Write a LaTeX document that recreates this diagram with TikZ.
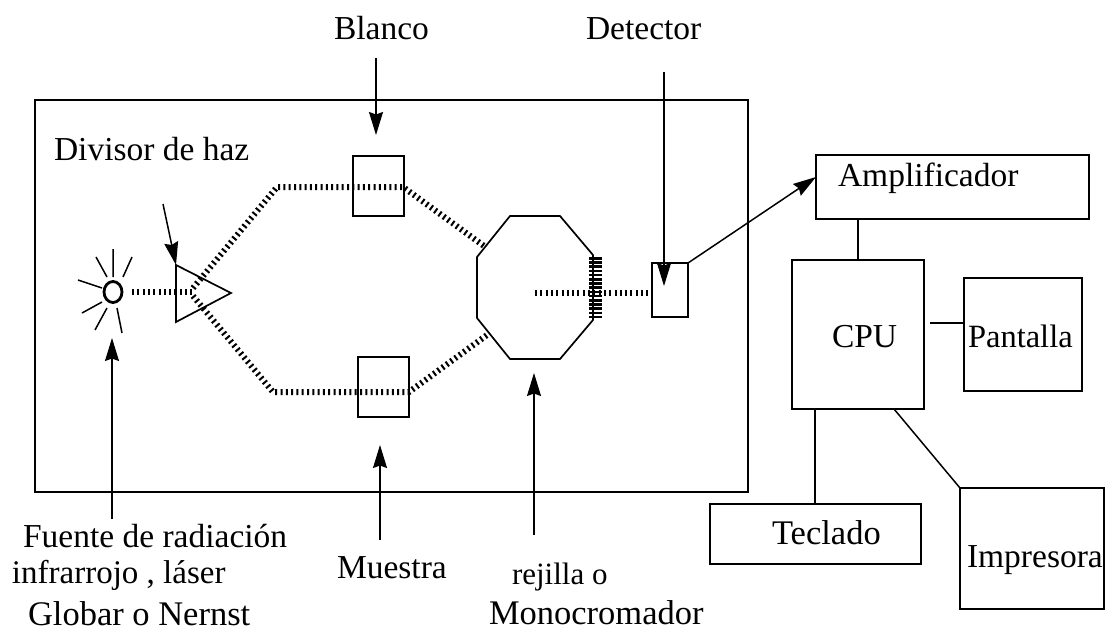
\documentclass[tikz,border=0pt]{standalone}
\usepackage{fontspec}
\setmainfont{Liberation Serif}
\usetikzlibrary{arrows.meta,shapes.geometric}
\tikzset{
  lab/.style={anchor=base west,inner sep=0pt,outer sep=0pt,font=\fontsize{#1}{36}\selectfont},
  lab/.default=33.5,
  box/.style={draw=black,line width=1.7pt,inner sep=0pt,outer sep=0pt,anchor=north west},
  thin line/.style={draw=black,line width=1.5pt},
  ray/.style={draw=black,line width=1.5pt},
  pointer/.style={draw=black,line width=1.5pt,-{Stealth[length=23pt,width=14pt,inset=2.5pt]}},
  beam/.style={draw=black,line width=6pt,dash pattern=on 2pt off 3.3pt},
  grating/.style={draw=black,line width=13pt,dash pattern=on 2.6pt off 1.6pt},
}
\begin{document}
\begin{tikzpicture}[x=1pt,y=-1pt]
\useasboundingbox (0,0) rectangle (1107,632);
% boxes
\node[box,minimum width=713pt,minimum height=392pt] (frame) at (35,100) {};
\node[box,minimum width=51pt,minimum height=60pt] (blanco) at (353,156) {};
\node[box,minimum width=51pt,minimum height=60pt] (muestra) at (358,357) {};
\node[box,minimum width=36pt,minimum height=54pt] (det) at (652,263) {};
\node[box,minimum width=273pt,minimum height=64pt] (amp) at (816,155) {};
\node[box,minimum width=132pt,minimum height=149pt] (cpu) at (792,260) {};
\node[box,minimum width=118pt,minimum height=113pt] (pant) at (964,278) {};
\node[box,minimum width=211pt,minimum height=60pt] (tec) at (710,504) {};
\node[box,minimum width=144pt,minimum height=121pt] (imp) at (960,488) {};
% source
\node[draw=black,line width=2.8pt,ellipse,minimum width=18pt,minimum height=21pt,inner sep=0pt] (src) at (113,292) {};
\draw[ray] (113,249)--(113,277) (96,257)--(107,277) (132,257)--(123,277)
  (78,280)--(102,288) (102,302)--(82,313) (107,308)--(95,330) (117,308)--(122,333);
% prism
\coordinate (pa) at (176,265); \coordinate (pb) at (231,293); \coordinate (pc) at (176,322);
\draw[line width=1.7pt,line join=miter] (pa)--(pb)--(pc)--cycle;
% octagon
\coordinate (o1) at (510,216); \coordinate (o2) at (560,216); \coordinate (o3) at (593,255);
\coordinate (o4) at (593,320); \coordinate (o5) at (560,359); \coordinate (o6) at (510,359);
\coordinate (o7) at (477,318); \coordinate (o8) at (477,257);
\draw[line width=1.7pt] (o1)--(o2)--(o3)--(o4)--(o5)--(o6)--(o7)--(o8)--cycle;
% beams
\coordinate (b0) at (132,292); \coordinate (b1) at (193,292);
\coordinate (u0) at (193,288); \coordinate (u1) at (277,187); \coordinate (u2) at (403,187); \coordinate (u3) at (484,246);
\coordinate (l0) at (193,296); \coordinate (l1) at (273,392); \coordinate (l2) at (409,392); \coordinate (l3) at (487,335);
\coordinate (g0) at (535,293); \coordinate (g1) at (650,293);
\coordinate (gt) at (595,257); \coordinate (gb) at (595,318);
\draw[beam] (b0)--(b1);
\draw[beam] (u0)--(u1)--(u2)--(u3);
\draw[beam] (l0)--(l1)--(l2)--(l3);
\draw[grating] (gt)--(gb);
\draw[beam] (g0)--(g1);
% pointers
\coordinate (pDiv) at (163,204);
\coordinate (pBla) at (376,58); \coordinate (tBla) at (376,135);
\coordinate (pDet) at (664,72); \coordinate (tDet) at (664,286);
\coordinate (pFue) at (112,519); \coordinate (tFue) at (112,338);
\coordinate (pMue) at (380,540); \coordinate (tMue) at (380,445);
\coordinate (pRej) at (534,535); \coordinate (tRej) at (534,373);
\coordinate (pAmp) at (688,263); \coordinate (tAmp) at (816,177);
\draw[pointer] (pDiv)--(pa);
\draw[pointer] (pBla)--(tBla);
\draw[pointer] (pDet)--(tDet);
\draw[pointer] (pFue)--(tFue);
\draw[pointer] (pMue)--(tMue);
\draw[pointer] (pRej)--(tRej);
\draw[pointer] (pAmp)--(tAmp);
% links
\coordinate (cpuTop) at (858,260); \coordinate (ampBot) at (858,219);
\coordinate (cpuR) at (930,323); \coordinate (panL) at (964,323);
\coordinate (cpuB) at (815,409); \coordinate (tecT) at (815,504);
\coordinate (cpuB2) at (894,409); \coordinate (impT) at (960,488);
\draw[thin line] (ampBot)--(cpuTop);
\draw[thin line] (cpuR)--(panL);
\draw[thin line] (cpuB)--(tecT);
\draw[thin line] (cpuB2)--(impT);
% labels
\node[lab] (tBlanco) at (334,39) {Blanco};
\node[lab] (tDetector) at (586,39) {Detector};
\node[lab] (tDivisor) at (54,160) {Divisor de haz};
\node[lab] (tAmpl) at (838,186) {Amplificador};
\node[lab] (tCPU) at (832,347) {CPU};
\node[lab=32.5] (tPant) at (968,347) {Pantalla};
\node[lab=34.5] (tTec) at (772,544) {Teclado};
\node[lab] (tImp) at (967,567) {Impresora};
\node[lab] (tF1) at (23,547) {Fuente de radiación};
\node[lab=33] (tF2) at (12,583) {infrarrojo , láser};
\node[lab=34.5] (tF3) at (28,625) {Globar o Nernst};
\node[lab] (tMu) at (337,578) {Muestra};
\node[lab=31] (tRe) at (512,584) {rejilla o};
\node[lab=34.5] (tMo) at (489,624) {Monocromador};
\end{tikzpicture}
\end{document}
